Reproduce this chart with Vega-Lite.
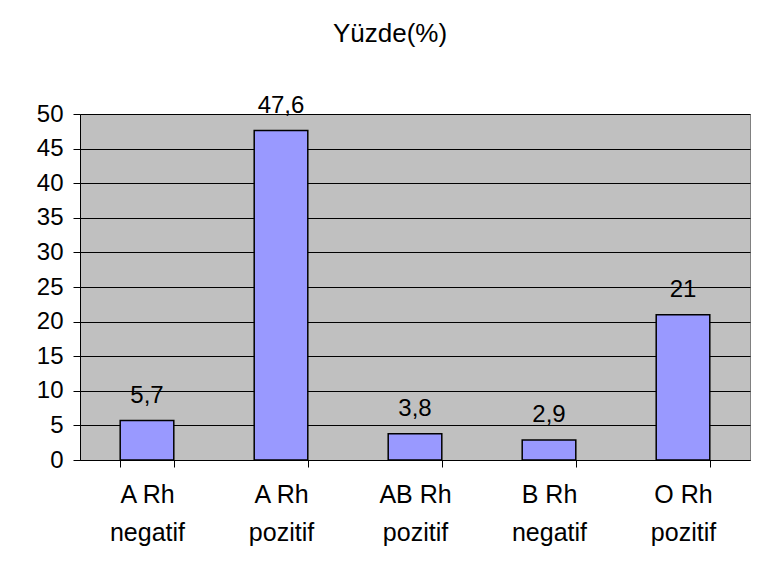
{
  "$schema": "https://vega.github.io/schema/vega-lite/v6.json",
  "autosize": {"type": "none"},
  "width": 670,
  "height": 346,
  "padding": {"left": 80, "top": 114, "right": 8, "bottom": 113},
  "background": "white",
  "config": {
    "font": "Liberation Sans",
    "locale": {"number": {"decimal": ",", "thousands": ".", "grouping": [3], "currency": ["", " TL"]}},
    "view": {"fill": "#C0C0C0", "stroke": "#808080", "strokeWidth": 1}
  },
  "title": {
    "text": "Yüzde(%)",
    "fontSize": 26,
    "fontWeight": "normal",
    "color": "black",
    "anchor": "middle",
    "dx": -25,
    "offset": 47
  },
  "data": {
    "values": [
      {"grup": "A Rh|negatif", "yuzde": 5.7},
      {"grup": "A Rh|pozitif", "yuzde": 47.6},
      {"grup": "AB Rh|pozitif", "yuzde": 3.8},
      {"grup": "B Rh|negatif", "yuzde": 2.9},
      {"grup": "O Rh|pozitif", "yuzde": 21}
    ]
  },
  "encoding": {
    "x": {
      "field": "grup",
      "type": "nominal",
      "sort": null,
      "scale": {"paddingInner": 0.6, "paddingOuter": 0.3},
      "axis": {
        "title": null,
        "labelAngle": 0,
        "labelExpr": "split(datum.label, '|')",
        "labelFontSize": 25,
        "labelColor": "black",
        "labelLineHeight": 38,
        "labelPadding": 15,
        "tickBand": "extent",
        "tickColor": "black",
        "tickSize": 7,
        "domainColor": "black",
        "grid": false
      }
    },
    "y": {
      "field": "yuzde",
      "type": "quantitative",
      "scale": {"domain": [0, 50], "nice": false},
      "axis": {
        "title": null,
        "values": [0, 5, 10, 15, 20, 25, 30, 35, 40, 45, 50],
        "labelFontSize": 24,
        "labelColor": "black",
        "labelPadding": 10,
        "tickColor": "black",
        "tickSize": 7,
        "domainColor": "black",
        "gridColor": "black",
        "gridOpacity": 1,
        "gridWidth": 1
      }
    }
  },
  "layer": [
    {
      "mark": {"type": "bar", "fill": "#9999FF", "stroke": "black", "strokeWidth": 1.5}
    },
    {
      "mark": {"type": "text", "fontSize": 24, "color": "black", "baseline": "alphabetic", "dy": -18},
      "encoding": {
        "text": {"field": "yuzde", "type": "quantitative", "format": ".1~f"}
      }
    }
  ]
}
